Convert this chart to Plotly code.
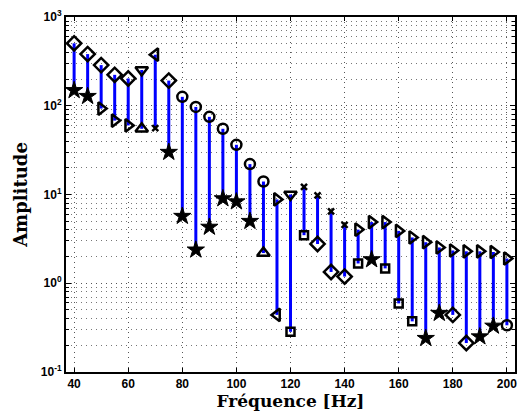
import plotly.graph_objects as go

freqs = [40, 45, 50, 55, 60, 65, 70, 75, 80, 85, 90, 95, 100, 105, 110, 115, 120,
         125, 130, 135, 140, 145, 150, 155, 160, 165, 170, 175, 180, 185, 190, 195, 200]
upper = [505, 382, 287, 223, 203, 253, 376, 192, 126, 97, 75, 55, 36.3, 22, 14, 8.8, 10,
         12.2, 9.8, 6.46, 4.56, 4.02, 4.89, 4.89, 3.89, 3.28, 2.90, 2.53, 2.34, 2.29, 2.29, 2.25, 1.90]
lower = [149, 128, 93, 68, 60, 55, 56, 30, 5.7, 2.38, 4.3, 9.0, 8.3, 5.0, 2.19, 0.44, 0.284,
         3.48, 2.77, 1.34, 1.19, 1.67, 1.85, 1.47, 0.593, 0.372, 0.24, 0.46, 0.44, 0.212, 0.25, 0.33, 0.336]
upper_sym = ["diamond", "diamond", "diamond", "diamond", "diamond", "tdown", "tleft", "diamond",
             "circle", "circle", "circle", "circle", "circle", "circle", "circle", "tright", "tdown",
             "x", "x", "x", "x", "tright", "tright", "tright", "tright", "tright", "tright", "tright",
             "tright", "tright", "tright", "tright", "tright"]
lower_sym = ["star", "star", "tright", "tright", "tright", "tup", "x", "star", "star", "star", "star",
             "star", "star", "star", "tup", "tleft", "square", "square", "diamond", "diamond", "diamond",
             "square", "star", "square", "square", "square", "star", "star", "diamond", "diamond",
             "star", "star", "circle"]
x_ticks = [40, 60, 80, 100, 120, 140, 160, 180, 200]
y_tickvals = [0.1, 1, 10, 100, 1000]
y_ticktext = ["10<sup>-1</sup>", "10<sup>0</sup>", "10<sup>1</sup>", "10<sup>2</sup>", "10<sup>3</sup>"]

# symbol name -> (plotly symbol, size, filled)
SYM = {"diamond": ("diamond", 11, False), "circle": ("circle", 10, False),
       "tright": ("triangle-right", 11, False), "tleft": ("triangle-left", 11, False),
       "tup": ("triangle-up", 11, False), "tdown": ("triangle-down", 11, False),
       "square": ("square", 8, False), "star": ("star", 13, True), "x": ("x-thin", 6, True)}

fig = go.Figure()

lx, ly = [], []
for f, lo, hi in zip(freqs, lower, upper):
    lx += [f, f, None]
    ly += [lo, hi, None]
fig.add_trace(go.Scatter(x=lx, y=ly, mode="lines", line=dict(color="#0000ff", width=3),
                         hoverinfo="skip", showlegend=False))

for vals, syms in ((upper, upper_sym), (lower, lower_sym)):
    fig.add_trace(go.Scatter(
        x=freqs, y=vals, mode="markers", showlegend=False,
        marker=dict(symbol=[SYM[s][0] for s in syms], size=[SYM[s][1] for s in syms],
                    color=["black" if SYM[s][2] else "rgba(0,0,0,0)" for s in syms],
                    opacity=1,
                    line=dict(color="black", width=[1 if s == "star" else 2.5 for s in syms]))))

tickfont = dict(family="Liberation Sans, Arial", size=12, color="black", weight="bold")

fig.update_xaxes(range=[37, 203], tickvals=x_ticks, ticks="inside", ticklen=4, tickwidth=1,
                 tickcolor="black", mirror="ticks", showline=True, linecolor="black", linewidth=2,
                 showgrid=True, gridcolor="#555", griddash="1px,4px", gridwidth=1, zeroline=False,
                 ticklabeloverflow="allow",
                 tickfont=tickfont,
                 title=dict(text="Fréquence [Hz]", standoff=4,
                            font=dict(family="DejaVu Serif", size=17, color="black", weight="bold")))
fig.update_yaxes(type="log", range=[-1, 3], tickvals=y_tickvals, ticktext=y_ticktext,
                 ticks="inside", ticklen=5, tickwidth=1, tickcolor="black", mirror="ticks",
                 showline=True, linecolor="black", linewidth=2,
                 showgrid=True, gridcolor="#555", griddash="1px,4px", gridwidth=1, zeroline=False,
                 minor=dict(ticks="inside", ticklen=3, tickcolor="black", showgrid=True,
                            gridcolor="#777", griddash="1px,4px", gridwidth=1, dtick="D1"),
                 tickfont=tickfont,
                 title=dict(text="Amplitude", standoff=8,
                            font=dict(family="DejaVu Serif", size=18, color="black", weight="bold")))

fig.update_layout(width=527, height=419, margin=dict(l=66, r=12, t=8, b=47),
                  plot_bgcolor="white", paper_bgcolor="white")

fig.write_html("out.html", config={"displayModeBar": False},
               post_script="document.body.style.margin='0';")
